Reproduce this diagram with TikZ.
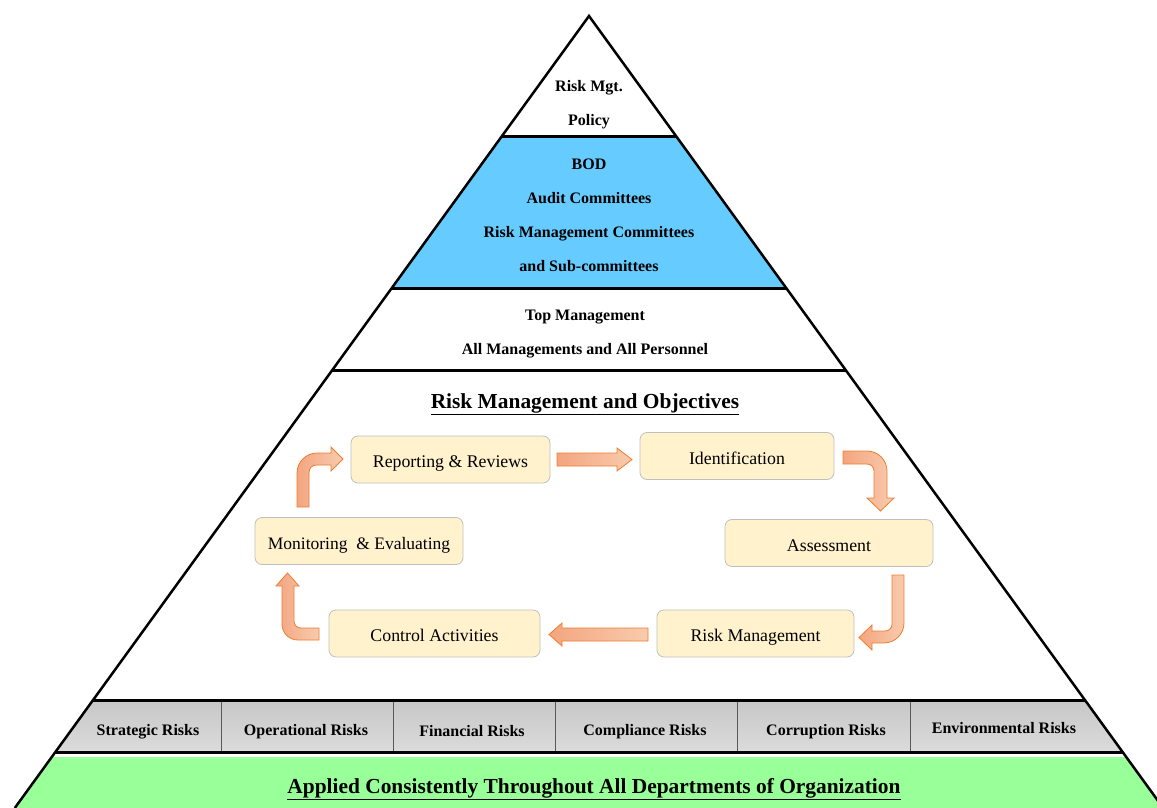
\documentclass[tikz,border=0pt]{standalone}
\usepackage{fontspec}
\setmainfont{Liberation Serif}
\definecolor{bandblue}{HTML}{66CCFF}
\definecolor{bandgreen}{HTML}{99FF99}
\definecolor{boxfill}{HTML}{FFF2CC}
\definecolor{boxline}{HTML}{BFBFBF}
\definecolor{arrline}{HTML}{ED7D31}
\definecolor{arrdark}{HTML}{F4A580}
\definecolor{arrlight}{HTML}{F8CBAD}
\begin{document}
\begin{tikzpicture}[x=1pt,y=-1pt,
  lbl/.style={font=\fontsize{16}{19}\selectfont\bfseries, inner sep=0pt, anchor=base},
  stepbox/.style={draw=boxline, fill=boxfill, rounded corners=7pt, line width=0.8pt,
     font=\fontsize{17.8}{20}\selectfont, minimum height=47pt, text height=17pt, text depth=1pt},
  blockarrow/.style={draw=arrline, line width=0.8pt, left color=arrdark, right color=arrlight},
  bandline/.style={line width=3pt},
  divider/.style={line width=1pt, draw=black!65}]
\useasboundingbox (0,0) rectangle (1157,808);
\coordinate (apex) at (589,16);
\coordinate (bl) at (14.8,808);
\coordinate (br) at (1163.2,808);
\begin{scope}
\clip (0,0) rectangle (1157,808);
% bands
\fill[bandgreen] (52.5,757) -- (1125.5,757) -- (br) -- (bl) -- cycle;
\shade[top color=black!22, bottom color=black!14] (93.1,700) -- (1084.9,700) -- (1122.6,752) -- (55.4,752) -- cycle;
\fill[bandblue] (502,136) -- (676,136) -- (786.2,288) -- (391.8,288) -- cycle;
\draw[bandline] (502,136) -- (676,136);
\draw[bandline] (391.8,288) -- (786.2,288);
\draw[bandline] (332.3,370) -- (845.7,370);
\draw[bandline] (93.1,700) -- (1084.9,700);
\draw[bandline] (55.4,752.5) -- (1122.6,752.5);
\foreach \xx in {221,393,555,737,910} \draw[divider] (\xx,702) -- (\xx,751);
\draw[line width=2.5pt, line join=miter] (bl) -- (apex) -- (br);
\end{scope}
% top texts
\node[lbl] (t1) at (589,92) {Risk Mgt.};
\node[lbl] (t2) at (589,125) {Policy};
\node[lbl] (b1) at (589,169) {BOD};
\node[lbl] (b2) at (589,203) {Audit Committees};
\node[lbl] (b3) at (589,237) {Risk Management Committees};
\node[lbl] (b4) at (589,271) {and Sub-committees};
\node[lbl] (m1) at (585,320) {Top Management};
\node[lbl] (m2) at (585,354) {All Managements and All Personnel};
\node[lbl, font=\fontsize{21.4}{24}\selectfont\bfseries] (title) at (585,408) {\underline{Risk Management and Objectives}};
% risk categories
\node[lbl] (r1) at (148,735) {Strategic Risks};
\node[lbl] (r2) at (306,735) {Operational Risks};
\node[lbl] (r3) at (472,736) {Financial Risks};
\node[lbl] (r4) at (645,735) {Compliance Risks};
\node[lbl] (r5) at (826,735) {Corruption Risks};
\node[lbl] (r6) at (1004,733) {Environmental Risks};
\node[lbl, font=\fontsize{21.4}{24}\selectfont\bfseries] (applied) at (594,793) {\underline{Applied Consistently Throughout All Departments of Organization}};
% process boxes
\node[stepbox, minimum width=199pt] (rep) at (450.5,459.5) {Reporting \& Reviews};
\node[stepbox, minimum width=194pt] (ide) at (737,456) {Identification};
\node[stepbox, minimum width=208pt] (ass) at (829,543) {Assessment};
\node[stepbox, minimum width=197pt] (rm) at (755.5,633.5) {Risk Management};
\node[stepbox, minimum width=211pt] (ca) at (434.5,633.5) {Control Activities};
\node[stepbox, minimum width=208pt, font=\fontsize{17.5}{20}\selectfont] (mon) at (359,541) {Monitoring\ \ \& Evaluating};
% block arrows
\path[blockarrow] (557,453) -- (617,453) -- (617,448) -- (632,459.5) -- (617,471) -- (617,466) -- (557,466) -- cycle;
\path[blockarrow] (843,451) -- (867,451) .. controls (878,451) and (887,460) .. (887,471) -- (887,498) -- (894,498) -- (880.5,511) -- (867,498) -- (874,498) -- (874,471) .. controls (874,467) and (871,464) .. (867,464) -- (843,464) -- cycle;
\path[blockarrow] (904,575) -- (904,623) .. controls (904,634) and (895,643) .. (884,643) -- (872,643) -- (872,650) -- (859,637.5) -- (872,625) -- (872,631) -- (885,631) .. controls (889,631) and (892,628) .. (892,624) -- (892,575) -- cycle;
\path[blockarrow] (648,628) -- (562,628) -- (562,623) -- (549,634.5) -- (562,646) -- (562,641) -- (648,641) -- cycle;
\path[blockarrow] (319,628) -- (301,628) .. controls (297,628) and (294,625) .. (294,621) -- (294,586) -- (299,586) -- (287.5,573) -- (276,586) -- (282,586) -- (282,624) .. controls (282,633) and (289,640) .. (298,640) -- (319,640) -- cycle;
\path[blockarrow] (297,507) -- (297,473) .. controls (297,462) and (306,453) .. (317,453) -- (331,453) -- (331,447) -- (343,459) -- (331,471) -- (331,465) -- (317,465) .. controls (312,465) and (309,468) .. (309,473) -- (309,507) -- cycle;
\end{tikzpicture}
\end{document}
